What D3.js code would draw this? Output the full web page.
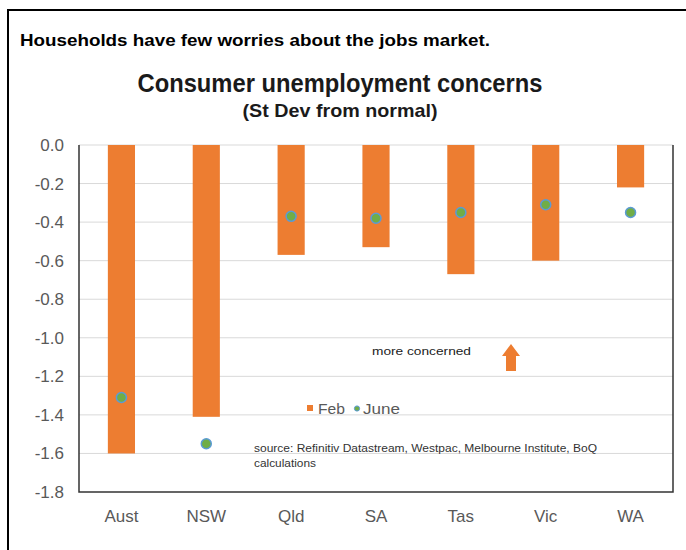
<!DOCTYPE html>
<html>
<head>
<meta charset="utf-8">
<script src="https://cdn.jsdelivr.net/npm/d3@7"></script>
<style>
  html, body { margin: 0; padding: 0; background: #fff; }
  svg { display: block; }
</style>
</head>
<body>
<svg id="chart" width="686" height="550"></svg>
<script>
// Regions along the x axis
const regions = ["Aust", "NSW", "Qld", "SA", "Tas", "Vic", "WA"];
// February reading (bars), standard deviations from normal
const febValues = [-1.60, -1.41, -0.57, -0.53, -0.67, -0.60, -0.22];
// June reading (dots)
const juneValues = [-1.31, -1.55, -0.37, -0.38, -0.35, -0.31, -0.35];
// Y axis ticks
const yTicks = [0.0, -0.2, -0.4, -0.6, -0.8, -1.0, -1.2, -1.4, -1.6, -1.8];

const svg = d3.select("#chart");
const ORANGE = "#ED7D31", GREEN = "#70AD47", BLUE = "#5B9BD5", GREY = "#595959";
const SANS = "Liberation Sans, Arial, sans-serif";
const NARROW = "Liberation Sans Narrow, Arial Narrow, Liberation Sans, sans-serif";

// Outer frame (runs off the right and bottom edges)
svg.append("path")
  .attr("d", "M8,560 L8,10 L700,10")
  .attr("fill", "none").attr("stroke", "#000").attr("stroke-width", 2);

svg.append("text")
  .attr("x", 20).attr("y", 46)
  .attr("font-family", SANS)
  .attr("font-weight", "bold").attr("font-size", 17)
  .attr("textLength", 470).attr("lengthAdjust", "spacingAndGlyphs")
  .attr("fill", "#000")
  .text("Households have few worries about the jobs market.");

svg.append("text")
  .attr("x", 340).attr("y", 92).attr("text-anchor", "middle")
  .attr("font-family", NARROW)
  .attr("font-weight", "bold").attr("font-size", 25)
  .attr("textLength", 405).attr("lengthAdjust", "spacingAndGlyphs")
  .attr("fill", "#1a1a1a")
  .text("Consumer unemployment concerns");

svg.append("text")
  .attr("x", 340).attr("y", 117).attr("text-anchor", "middle")
  .attr("font-family", NARROW)
  .attr("font-weight", "bold").attr("font-size", 19)
  .attr("textLength", 195).attr("lengthAdjust", "spacingAndGlyphs")
  .attr("fill", "#1a1a1a")
  .text("(St Dev from normal)");

const plot = { left: 79, right: 673, top: 145, bottom: 492 };

const x = d3.scaleBand().domain(regions)
  .range([plot.left, plot.right]).paddingInner(0.68).paddingOuter(0.34);
const y = d3.scaleLinear().domain([0, -1.8]).range([plot.top, plot.bottom]);

// Gridlines
svg.append("g").selectAll("line").data(yTicks.filter(d => d > -1.8)).join("line")
  .attr("x1", plot.left).attr("x2", plot.right)
  .attr("y1", d => y(d)).attr("y2", d => y(d))
  .attr("stroke", "#d9d9d9").attr("stroke-width", 1);

// Y axis labels
const yAxis = d3.axisLeft(y).tickValues(yTicks).tickSize(0).tickPadding(15);
const gy = svg.append("g").attr("transform", `translate(${plot.left},0)`).call(yAxis);
gy.select(".domain").remove();
gy.selectAll("text")
  .attr("font-family", SANS)
  .attr("font-size", 17).attr("fill", GREY)
  .text(d => d3.format(".1f")(d).replace("−", "-"));

// X axis labels
const xAxis = d3.axisBottom(x).tickSize(0).tickPadding(18);
const gx = svg.append("g").attr("transform", `translate(0,${plot.bottom})`).call(xAxis);
gx.select(".domain").remove();
gx.selectAll("text")
  .attr("font-family", SANS)
  .attr("font-size", 17).attr("fill", GREY);

// Bars (Feb)
svg.append("g").selectAll("rect").data(regions).join("rect")
  .attr("x", d => x(d))
  .attr("width", x.bandwidth())
  .attr("y", y(0))
  .attr("height", (d, i) => y(febValues[i]) - y(0))
  .attr("fill", ORANGE);

// Plot frame: left, bottom, right
svg.append("path")
  .attr("d", `M${plot.left},${plot.top} L${plot.left},${plot.bottom} L${plot.right},${plot.bottom} L${plot.right},${plot.top}`)
  .attr("fill", "none").attr("stroke", "#333").attr("stroke-width", 1.5);

// Dots (June)
svg.append("g").selectAll("circle").data(regions).join("circle")
  .attr("cx", d => x(d) + x.bandwidth() / 2)
  .attr("cy", (d, i) => y(juneValues[i]))
  .attr("r", 5)
  .attr("fill", GREEN).attr("stroke", BLUE).attr("stroke-width", 1.5);

// Annotation
svg.append("text")
  .attr("x", 372).attr("y", 355)
  .attr("font-family", SANS)
  .attr("font-size", 11.5).attr("fill", "#222")
  .attr("textLength", 99).attr("lengthAdjust", "spacingAndGlyphs")
  .text("more concerned");

svg.append("path")
  .attr("d", "M511,344 L520,356 L516,356 L516,371 L506,371 L506,356 L502,356 Z")
  .attr("fill", ORANGE);

// Legend
svg.append("rect").attr("x", 307).attr("y", 405).attr("width", 6).attr("height", 6).attr("fill", ORANGE);
svg.append("text").attr("x", 318).attr("y", 414)
  .attr("font-family", SANS)
  .attr("font-size", 15).attr("fill", GREY)
  .attr("textLength", 27).attr("lengthAdjust", "spacingAndGlyphs").text("Feb");
svg.append("circle").attr("cx", 357).attr("cy", 408.5).attr("r", 2.6)
  .attr("fill", GREEN).attr("stroke", BLUE).attr("stroke-width", 1);
svg.append("text").attr("x", 363).attr("y", 414)
  .attr("font-family", SANS)
  .attr("font-size", 15).attr("fill", GREY)
  .attr("textLength", 37).attr("lengthAdjust", "spacingAndGlyphs").text("June");

// Source note
const src = svg.append("text")
  .attr("font-family", SANS)
  .attr("font-size", 10.5).attr("fill", "#333");
src.append("tspan").attr("x", 254).attr("y", 452)
  .attr("textLength", 343).attr("lengthAdjust", "spacingAndGlyphs")
  .text("source:  Refinitiv Datastream, Westpac, Melbourne Institute, BoQ");
src.append("tspan").attr("x", 254).attr("y", 467)
  .attr("textLength", 62).attr("lengthAdjust", "spacingAndGlyphs")
  .text("calculations");
</script>
</body>
</html>
